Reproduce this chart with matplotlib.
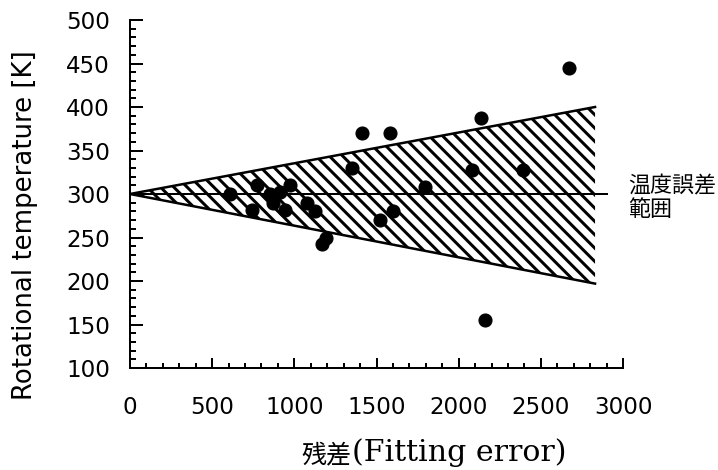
import matplotlib
matplotlib.use("Agg")
import matplotlib.pyplot as plt
from matplotlib.ticker import MultipleLocator

DPI = 80


def px(v):
    # pixel size -> points at this dpi
    return v * 72.0 / DPI


# data
fit_error = [610, 740, 770, 850, 870, 910, 945, 975, 1080, 1125, 1170, 1190,
             1350, 1410, 1520, 1580, 1600, 1795, 2080, 2135, 2160, 2390, 2670]
rot_temp = [300, 282, 310, 300, 290, 302, 282, 310, 290, 280, 242, 250,
            330, 370, 270, 370, 280, 308, 328, 387, 155, 328, 445]

band_x = [0, 2830]
band_high = [300, 400]
band_low = [300, 197]
ref_x = [0, 2900]
ref_temp = [300, 300]

x_ticks = [0, 500, 1000, 1500, 2000, 2500, 3000]
y_ticks = [100, 150, 200, 250, 300, 350, 400, 450, 500]

plt.rcParams["hatch.linewidth"] = px(3)

fig = plt.figure(figsize=(718 / DPI, 470 / DPI), dpi=DPI)
ax = fig.add_axes([130 / 718, 1 - 368 / 470, 493 / 718, 348 / 470])

ax.fill_between(band_x, band_low, band_high, facecolor="white",
                edgecolor="black", linewidth=0, hatch="\\\\", zorder=1)
ax.plot(band_x, band_high, color="black", lw=px(2.5), zorder=2)
ax.plot(band_x, band_low, color="black", lw=px(2.5), zorder=2)
ax.plot(ref_x, ref_temp, color="black", lw=px(2), zorder=2, clip_on=False)
ax.scatter(fit_error, rot_temp, s=px(13) ** 2, color="black", zorder=3,
           clip_on=False)

ax.set_xlim(0, 3000)
ax.set_ylim(100, 500)
ax.set_xticks(x_ticks)
ax.set_yticks(y_ticks)
ax.xaxis.set_minor_locator(MultipleLocator(100))
ax.yaxis.set_minor_locator(MultipleLocator(10))

for s in ["top", "right"]:
    ax.spines[s].set_visible(False)
for s in ["left", "bottom"]:
    ax.spines[s].set_linewidth(px(2))

ax.tick_params(axis="both", which="both", direction="in", width=px(2))
ax.tick_params(axis="x", which="major", length=px(10), pad=px(28),
               labelsize=px(23))
ax.tick_params(axis="x", which="minor", length=px(5))
ax.tick_params(axis="y", which="major", length=px(13), pad=px(20),
               labelsize=px(23))
ax.tick_params(axis="y", which="minor", length=px(6))

ax.set_ylabel("Rotational temperature [K]", fontsize=px(26), va="center")
ax.yaxis.set_label_coords(-0.212, 0.411)

# x label: Japanese part and Latin part in different faces
fig.text(351 / 718, 1 - 462 / 470, "残差", fontsize=px(25),
         family="Noto Sans CJK JP", ha="right", va="baseline")
fig.text(352 / 718, 1 - 461 / 470, "(Fitting error)", fontsize=px(30),
         family="DejaVu Serif", ha="left", va="baseline")

fig.text(628 / 718, 1 - 175 / 470, "温度誤差\n範囲", fontsize=px(22),
         family="Noto Sans CJK JP", ha="left", va="top", linespacing=1.1)

fig.savefig("out.png", dpi=DPI)
